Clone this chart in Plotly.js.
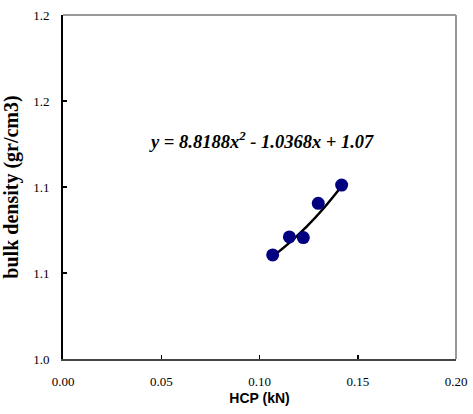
<!DOCTYPE html>
<html>
<head>
<meta charset="utf-8">
<script src="https://cdn.plot.ly/plotly-3.0.1.min.js"></script>
<style>html,body{margin:0;padding:0;background:#fff;}#chart{width:473px;height:414px;}</style>
</head>
<body>
<div id="chart"></div>
<script>
// Measured points
const hcp = [0.1067, 0.1152, 0.1223, 0.1299, 0.1418];
const bulkDensity = [1.0605, 1.0710, 1.0706, 1.0905, 1.1011];
// Trend line points
const trendX = [0.1067, 0.1150, 0.1240, 0.1330, 0.1418];
const trendY = [1.0596, 1.0674, 1.0770, 1.0881, 1.1004];
const equationText = "y = 8.8188x<sup>2</sup> - 1.0368x + 1.07";
// Axis ticks
const yTickVals = [1.00, 1.05, 1.10, 1.15, 1.20];
const yTickText = ["1.0", "1.1", "1.1", "1.2", "1.2"];
const xTickVals = [0.00, 0.05, 0.10, 0.15, 0.20];
const xTickText = ["0.00", "0.05", "0.10", "0.15", "0.20"];

const traces = [
  {x: trendX, y: trendY, type: 'scatter', mode: 'lines',
   line: {color: '#000000', width: 2.5, shape: 'spline'}, hoverinfo: 'skip'},
  {x: hcp, y: bulkDensity, type: 'scatter', mode: 'markers',
   marker: {color: '#000080', size: 13}}
];

const serif = 'Liberation Serif, Times New Roman, serif';
const layout = {
  width: 473, height: 414,
  margin: {l: 63, r: 17, t: 15, b: 55},
  paper_bgcolor: '#ffffff', plot_bgcolor: '#ffffff',
  showlegend: false,
  xaxis: {
    range: [0, 0.2], tickvals: xTickVals, ticktext: xTickText,
    ticks: 'inside', ticklen: 4, tickcolor: '#000', tickwidth: 1.5,
    ticklabelstandoff: 9,
    showgrid: false, zeroline: false,
    showline: true, linecolor: '#444', linewidth: 2,
    tickfont: {family: serif, size: 13, color: '#000'},
    title: {text: '<b>HCP (kN)</b>', font: {family: 'Liberation Sans, Arial, sans-serif', size: 14, color: '#000'}, standoff: 6}
  },
  yaxis: {
    range: [1.0, 1.2], tickvals: yTickVals, ticktext: yTickText,
    ticks: 'inside', ticklen: 4, tickcolor: '#000', tickwidth: 1.5,
    ticklabelstandoff: 9,
    showgrid: false, zeroline: false,
    showline: true, linecolor: '#000', linewidth: 2,
    tickfont: {family: serif, size: 13, color: '#000'},
    title: {text: '<b>bulk density (gr/cm3)</b>', font: {family: serif, size: 20, color: '#000'}, standoff: 10}
  },
  shapes: [
    {type: 'line', xref: 'paper', yref: 'paper', x0: 0, x1: 1, y0: 1, y1: 1, line: {color: '#999', width: 2}},
    {type: 'line', xref: 'paper', yref: 'paper', x0: 1, x1: 1, y0: 0, y1: 1, line: {color: '#999', width: 2}}
  ],
  annotations: [
    {x: 0.101, y: 1.1273, xref: 'x', yref: 'y', showarrow: false,
     text: '<b><i>' + equationText + '</i></b>',
     font: {family: serif, size: 18.5, color: '#000'}}
  ]
};
Plotly.newPlot('chart', traces, layout, {displayModeBar: false, staticPlot: true});
</script>
</body>
</html>
